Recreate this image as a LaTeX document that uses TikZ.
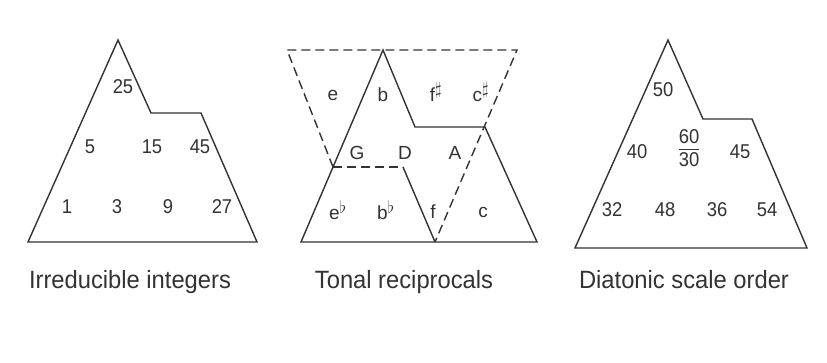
\documentclass[tikz,border=0pt]{standalone}
\usepackage{fontspec}
\setmainfont{Liberation Sans}
\newcommand{\upflat}{$^{\textstyle\flat}$}
\newcommand{\upsharp}{$^{\textstyle\sharp}$}
\begin{document}
\begin{tikzpicture}[x=1pt,y=-1pt,
  edge/.style={draw=black!80,line width=1.4pt,line join=miter},
  dashedge/.style={draw=black!80,line width=1.4pt,dash pattern=on 9pt off 5pt},
  lab/.style={text=black!80,font=\fontsize{20}{22}\selectfont,inner sep=0pt,xscale=0.92},
  note/.style={text=black!80,font=\fontsize{19}{21}\selectfont,inner sep=0pt},
  caption/.style={text=black!80,font=\fontsize{25}{28}\selectfont,inner sep=0pt,xscale=0.95,anchor=base}]
\useasboundingbox[fill=white] (0,0) rectangle (827,363);

% ---------- left figure ----------
\coordinate (la) at (118,40);
\coordinate (ln1) at (151,113);
\coordinate (ln2) at (201,113);
\coordinate (lbr) at (257,242);
\coordinate (lbl) at (28,242);
\draw[edge] (la) -- (ln1) -- (ln2) -- (lbr) -- (lbl) -- cycle;
\node[lab] (n25) at (123,87) {25};
\node[lab] (n5) at (90,147) {5};
\node[lab] (n15) at (152,147) {15};
\node[lab] (n45) at (200,147) {45};
\node[lab] (n1) at (67,207) {1};
\node[lab] (n3) at (117,207) {3};
\node[lab] (n9) at (168,207) {9};
\node[lab] (n27) at (222,207) {27};

% ---------- middle figure ----------
\coordinate (ma) at (383,50);
\coordinate (mn1) at (415,127);
\coordinate (mn2) at (485,127);
\coordinate (mbr) at (537,242);
\coordinate (mbl) at (301,242);
\coordinate (dtl) at (287,50);
\coordinate (dtr) at (517,50);
\coordinate (dl) at (333,167);
\coordinate (dm) at (403,167);
\coordinate (db) at (435,242);
\draw[edge] (ma) -- (mn1) -- (mn2) -- (mbr) -- (mbl) -- cycle;
\draw[dashedge] (dl) -- (dtl) -- (dtr) -- (db);
\draw[dashedge] (dl) -- (dm);
\draw[edge] (dm) -- (db);
\node[note] (te) at (333,95) {e};
\node[note] (tb) at (383,95) {b};
\node[note] (tfs) at (436,92) {f\upsharp};
\node[note] (tcs) at (481,92) {c\upsharp};
\node[note] (tG) at (357,153) {G};
\node[note] (tD) at (405,153) {D};
\node[note] (tA) at (455,153) {A};
\node[note] (teb) at (338,210) {e\upflat};
\node[note] (tbb) at (386,210) {b\upflat};
\node[note] (tf) at (433,212) {f};
\node[note] (tc) at (483,212) {c};

% ---------- right figure ----------
\coordinate (ra) at (668,40);
\coordinate (rn1) at (703,119);
\coordinate (rn2) at (752,119);
\coordinate (rbr) at (807,248);
\coordinate (rbl) at (575,248);
\draw[edge] (ra) -- (rn1) -- (rn2) -- (rbr) -- (rbl) -- cycle;
\node[lab] (r50) at (663,90) {50};
\node[lab] (r40) at (637,152) {40};
\node[lab] (r6030) at (689,151) {\begin{tabular}{@{}c@{}}60\\[-1pt]\hline\rule{0pt}{17pt}30\end{tabular}};
\node[lab] (r45) at (740,152) {45};
\node[lab] (r32) at (612,210) {32};
\node[lab] (r48) at (665,210) {48};
\node[lab] (r36) at (717,210) {36};
\node[lab] (r54) at (767,210) {54};

% ---------- captions ----------
\node[caption] (c1) at (130,288) {Irreducible integers};
\node[caption] (c2) at (404,288) {Tonal reciprocals};
\node[caption] (c3) at (684,288) {Diatonic scale order};
\end{tikzpicture}
\end{document}
